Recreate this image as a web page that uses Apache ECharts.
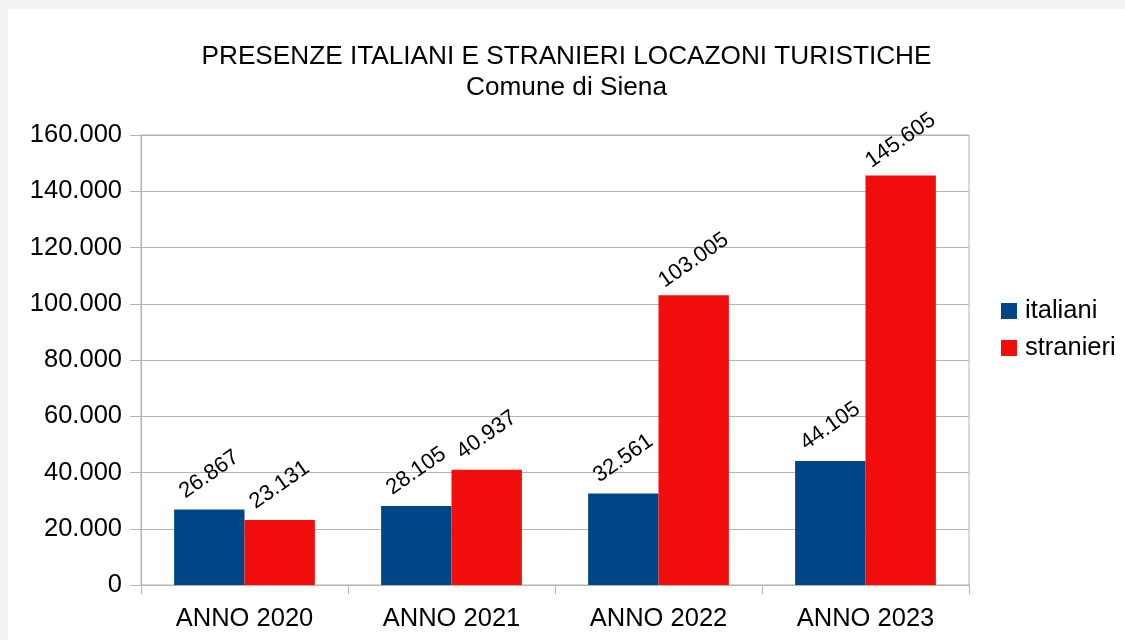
<!DOCTYPE html>
<html>
<head>
<meta charset="utf-8">
<script src="https://cdn.jsdelivr.net/npm/echarts@6/dist/echarts.min.js"></script>
<style>
  body { margin: 0; background: #f3f3f3; }
  #chart { position: absolute; left: 8px; top: 9px; width: 1117px; height: 631px; background: #ffffff; }
</style>
</head>
<body>
<div id="chart"></div>
<script>
var categories = ["ANNO 2020", "ANNO 2021", "ANNO 2022", "ANNO 2023"];
var italiani = [26867, 28105, 32561, 44105];
var stranieri = [23131, 40937, 103005, 145605];
var seriesNames = ["italiani", "stranieri"];

// punto come separatore delle migliaia
function fmt(v) {
  return String(v).replace(/\B(?=(\d{3})+(?!\d))/g, ".");
}

var font = "'Liberation Sans', Arial, sans-serif";
var gridColor = "#b3b3b3";

var chart = echarts.init(document.getElementById("chart"));

function barLabel() {
  return {
    show: true,
    position: "top",
    distance: 35,
    rotate: 35,
    align: "center",
    verticalAlign: "middle",
    fontFamily: font,
    fontSize: 22,
    color: "#000000",
    formatter: function(p) { return fmt(p.value); }
  };
}

chart.setOption({
  animation: false,
  title: {
    text: "PRESENZE ITALIANI E STRANIERI LOCAZONI TURISTICHE\nComune di Siena",
    left: "center",
    top: 27,
    padding: [5, 5, 5, 17],
    textStyle: {
      fontFamily: font,
      fontWeight: "normal",
      fontSize: 26.2,
      lineHeight: 31,
      color: "#000000"
    }
  },
  legend: {
    orient: "vertical",
    left: 988,
    top: 284,
    itemWidth: 16,
    itemHeight: 16,
    itemGap: 11,
    icon: "rect",
    data: seriesNames,
    textStyle: {
      fontFamily: font,
      fontSize: 25.5,
      padding: [0, 0, 0, 3],
      color: "#000000"
    }
  },
  grid: {
    left: 133,
    right: 156,
    top: 126,
    bottom: 55,
    show: true,
    borderColor: gridColor,
    borderWidth: 1
  },
  xAxis: {
    type: "category",
    data: categories,
    axisLine: { lineStyle: { color: gridColor } },
    axisTick: { show: true, length: 9, lineStyle: { color: gridColor } },
    axisLabel: {
      margin: 21,
      fontFamily: font,
      fontSize: 25.5,
      color: "#000000"
    }
  },
  yAxis: {
    type: "value",
    min: 0,
    max: 160000,
    interval: 20000,
    axisLine: { show: true, lineStyle: { color: gridColor } },
    axisTick: { show: true, length: 11, lineStyle: { color: gridColor } },
    splitLine: { lineStyle: { color: gridColor } },
    axisLabel: {
      margin: 19,
      fontFamily: font,
      fontSize: 25.5,
      color: "#000000",
      formatter: function(v) { return fmt(v); }
    }
  },
  series: [
    {
      name: seriesNames[0],
      type: "bar",
      data: italiani,
      barGap: "0%",
      barCategoryGap: "32%",
      itemStyle: { color: "#004586" },
      label: barLabel()
    },
    {
      name: seriesNames[1],
      type: "bar",
      data: stranieri,
      itemStyle: { color: "#f10d0c" },
      label: barLabel()
    }
  ]
});
</script>
</body>
</html>
